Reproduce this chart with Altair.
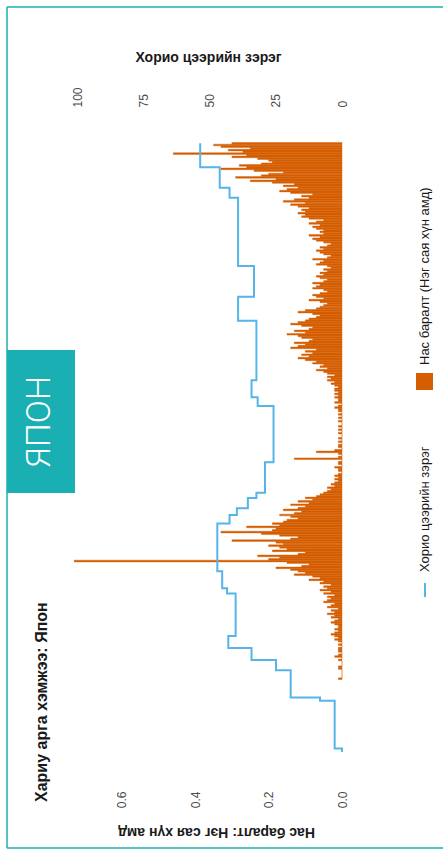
import altair as alt
import pandas as pd

# ---- Daily deaths per million people, Japan (first value: 2020-02-13) ----
first_day = "2020-02-13"
deaths_feb = [0.01, 0, 0, 0, 0, 0, 0.01, 0.01, 0, 0, 0, 0.01, 0, 0.02, 0.01, 0, 0.01]
deaths_mar = [0.01, 0.01, 0, 0.01, 0, 0.01, 0.02, 0.01, 0.02, 0.03, 0.02, 0.01, 0.02, 0.01, 0.01, 0.02,
              0.03, 0.02, 0.01, 0.03, 0.02, 0.04, 0.02, 0.03, 0.01, 0.04, 0.03, 0.02, 0.05, 0.04, 0.03]
deaths_apr = [0.04, 0.02, 0.05, 0.03, 0.06, 0.04, 0.05, 0.03, 0.06, 0.05, 0.09, 0.06, 0.08, 0.13, 0.10,
              0.12, 0.14, 0.18, 0.11, 0.09, 0.15, 0.73, 0.20, 0.17, 0.23, 0.12, 0.10, 0.19, 0.15, 0.17]
deaths_may = [0.20, 0.16, 0.18, 0.30, 0.14, 0.12, 0.17, 0.22, 0.33, 0.19, 0.18, 0.26, 0.17, 0.19, 0.16,
              0.15, 0.12, 0.14, 0.17, 0.13, 0.11, 0.16, 0.12, 0.10, 0.14, 0.09, 0.12, 0.08, 0.10, 0.07, 0.06]
deaths_jun = [0.05, 0.04, 0.03, 0.04, 0.02, 0.03, 0.02, 0.01, 0.02, 0.01, 0.02, 0.01, 0, 0.01, 0.01,
              0.02, 0, 0.01, 0.01, 0, 0.13, 0.01, 0, 0.01, 0.07, 0.02, 0, 0.01, 0.01, 0]
deaths_jul = [0.01, 0, 0.01, 0, 0, 0.01, 0, 0.01, 0, 0.01, 0, 0, 0.01, 0, 0.01, 0,
              0.01, 0, 0.01, 0.01, 0.02, 0.01, 0, 0.02, 0.01, 0.01, 0.02, 0.01, 0.02, 0.01, 0.02]
deaths_aug = [0.02, 0.01, 0.02, 0.03, 0.02, 0.04, 0.03, 0.04, 0.02, 0.04, 0.05, 0.07, 0.04, 0.06, 0.05,
              0.08, 0.07, 0.10, 0.12, 0.09, 0.11, 0.08, 0.10, 0.07, 0.14, 0.12, 0.10, 0.13, 0.09, 0.08, 0.11]
deaths_sep = [0.12, 0.15, 0.10, 0.13, 0.09, 0.08, 0.11, 0.14, 0.12, 0.10, 0.09, 0.07, 0.06, 0.08, 0.12,
              0.10, 0.07, 0.06, 0.05, 0.04, 0.06, 0.09, 0.05, 0.07, 0.08, 0.06, 0.04, 0.05, 0.08, 0.07]
deaths_oct = [0.06, 0.08, 0.05, 0.04, 0.06, 0.07, 0.05, 0.06, 0.04, 0.05, 0.03, 0.04, 0.07, 0.06, 0.05,
              0.08, 0.04, 0.03, 0.05, 0.06, 0.07, 0.05, 0.06, 0.04, 0.03, 0.05, 0.07, 0.08, 0.06, 0.09, 0.05]
deaths_nov = [0.06, 0.05, 0.07, 0.08, 0.06, 0.09, 0.07, 0.05, 0.09, 0.11, 0.10, 0.12, 0.10, 0.11, 0.09,
              0.12, 0.14, 0.10, 0.16, 0.13, 0.09, 0.11, 0.08, 0.14, 0.17, 0.15, 0.12, 0.16, 0.13, 0.19]
deaths_dec = [0.25, 0.18, 0.29, 0.22, 0.20, 0.16, 0.24, 0.33, 0.26, 0.28, 0.22, 0.19, 0.20, 0.23, 0.30,
              0.26, 0.46, 0.27, 0.31, 0.25, 0.33, 0.35, 0.30]

# ---- Stringency index (0-100), value in force from each date on ----
stringency_dates = ["2020-01-01", "2020-01-03", "2020-01-31", "2020-02-02", "2020-02-18", "2020-02-24",
                    "2020-03-02", "2020-03-09", "2020-04-03", "2020-04-06", "2020-04-16", "2020-05-14",
                    "2020-05-19", "2020-05-23", "2020-05-29", "2020-06-01", "2020-06-19", "2020-07-22",
                    "2020-07-27", "2020-08-06", "2020-09-10", "2020-09-24", "2020-10-12", "2020-11-21",
                    "2020-11-27", "2020-12-09", "2020-12-23"]
stringency_values = [0, 2.78, 8.33, 19.44, 25.0, 34.26, 43.06, 40.28, 43.52, 45.37, 47.22, 42.59,
                     39.81, 35.65, 32.41, 29.17, 25.93, 31.94, 34.26, 32.41, 39.35, 33.33, 39.35, 42.59,
                     46.3, 53.7, 53.7]

# ---- Text ----
chart_title = "Хариу арга хэмжээ: Япон"
country_tag = "ЯПОН"
date_title = "Тайлант өдөрөөр"
deaths_title = "Нас баралт: Нэг сая хүн амд"
stringency_title = "Хорио цээрийн зэрэг"
legend_deaths = "Нас баралт (Нэг сая хүн амд)"
legend_stringency = "Хорио цээрийн зэрэг"
deaths_ticks = [0, 0.2, 0.4, 0.6]
stringency_ticks = [0, 25, 50, 75, 100]

ORANGE = "#D55E00"
BLUE = "#56B4E9"
TEAL = "#1AAFB3"
FONT = "Liberation Sans"

deaths = (deaths_feb + deaths_mar + deaths_apr + deaths_may + deaths_jun + deaths_jul
          + deaths_aug + deaths_sep + deaths_oct + deaths_nov + deaths_dec)
days = pd.date_range(first_day, periods=len(deaths), freq="D")
iso = "%Y-%m-%dT%H:%M:%SZ"
bars_df = pd.DataFrame({
    "start": (days - pd.Timedelta(hours=12)).strftime(iso),
    "end": (days + pd.Timedelta(hours=12)).strftime(iso),
    "deaths": deaths,
})
line_df = pd.DataFrame({
    "date": [d + "T00:00:00Z" for d in stringency_dates],
    "stringency": stringency_values,
    "i": list(range(len(stringency_dates))),
})
dummy = pd.DataFrame({"k": [0]})

# Time runs bottom-to-top; both value scales grow to the left.
date_scale = alt.Scale(
    type="utc",
    domain=[alt.DateTime(year=2019, month=12, date=13, hours=19, minutes=40, utc=True),
            alt.DateTime(year=2021, month=1, date=8, hours=14, minutes=24, utc=True)],
    nice=False,
)
date_axis = alt.Axis(
    orient="right", format="%b %Y",
    values=[alt.DateTime(year=2020, month=1, date=1, utc=True),
            alt.DateTime(year=2020, month=4, date=1, utc=True),
            alt.DateTime(year=2020, month=7, date=1, utc=True),
            alt.DateTime(year=2020, month=10, date=1, utc=True),
            alt.DateTime(year=2021, month=1, date=1, utc=True)],
    labelAngle=270, labelAlign="center", labelBaseline="top", labelPadding=6,
    ticks=False, domain=True, domainColor="#333333", domainWidth=1,
    title=date_title, titleAngle=270, titleX=31, titleY=322,
    titleAlign="center", titleBaseline="middle",
)

bars = alt.Chart(bars_df).mark_bar(
    color=ORANGE, stroke=ORANGE, strokeWidth=0.4
).encode(
    x=alt.X("deaths:Q",
            scale=alt.Scale(domain=[-0.0354, 0.755], reverse=True, nice=False, zero=False),
            axis=alt.Axis(orient="bottom", values=deaths_ticks, format=".1f",
                          labelAngle=270, labelAlign="right", labelBaseline="middle",
                          labelPadding=8, ticks=False, domain=False,
                          title=deaths_title, titleAngle=180, titleX=151, titleY=48,
                          titleAlign="center", titleBaseline="middle")),
    x2=alt.datum(0),
    y=alt.Y("start:T", scale=date_scale, axis=date_axis),
    y2="end:T",
)

line = alt.Chart(line_df).mark_line(
    color=BLUE, strokeWidth=2, interpolate="step-before"
).encode(
    x=alt.X("stringency:Q",
            scale=alt.Scale(domain=[-4.92, 104.9], reverse=True, nice=False, zero=False),
            axis=alt.Axis(orient="top", values=stringency_ticks, format="d",
                          labelAngle=270, labelAlign="left", labelBaseline="middle",
                          labelPadding=8, ticks=False, domain=False,
                          title=stringency_title, titleAngle=0, titleX=143, titleY=-58,
                          titleAlign="center", titleBaseline="middle")),
    y=alt.Y("date:T", scale=date_scale, axis=None),
    order=alt.Order("i:Q"),
)

# Page frame and country tag
frame_left = alt.Chart(dummy).mark_rule(color=TEAL, strokeWidth=1.5).encode(
    x=alt.value(-58), y=alt.value(-108), y2=alt.value(733))
frame_top = alt.Chart(dummy).mark_rule(color=TEAL, strokeWidth=1.5).encode(
    x=alt.value(-58), x2=alt.value(378), y=alt.value(-108))
frame_bottom = alt.Chart(dummy).mark_rule(color=TEAL, strokeWidth=1.5).encode(
    x=alt.value(-58), x2=alt.value(378), y=alt.value(733))
tag_box = alt.Chart(dummy).mark_rect(color=TEAL).encode(
    x=alt.value(-58), x2=alt.value(10), y=alt.value(235), y2=alt.value(378))
tag_text = alt.Chart(dummy).mark_text(
    text=country_tag, angle=270, align="center", baseline="middle",
    font="Roboto", fontWeight=300, fontSize=34, color="white"
).encode(x=alt.value(-25), y=alt.value(307))

title = alt.Chart(dummy).mark_text(
    text=chart_title, angle=270, align="left", baseline="middle",
    font=FONT, fontWeight="bold", fontSize=16, color="#1a1a1a"
).encode(x=alt.value(-23), y=alt.value(687))

# Legend on the right edge
leg_line = alt.Chart(dummy).mark_rule(color=BLUE, strokeWidth=2).encode(
    x=alt.value(360), y=alt.value(468), y2=alt.value(482))
leg_line_text = alt.Chart(dummy).mark_text(
    text=legend_stringency, angle=270, align="left", baseline="middle",
    font=FONT, fontSize=13, color="#1a1a1a"
).encode(x=alt.value(360), y=alt.value(457))
leg_square = alt.Chart(dummy).mark_rect(color=ORANGE).encode(
    x=alt.value(351), x2=alt.value(368), y=alt.value(258), y2=alt.value(275))
leg_square_text = alt.Chart(dummy).mark_text(
    text=legend_deaths, angle=270, align="left", baseline="middle",
    font=FONT, fontSize=13, color="#1a1a1a"
).encode(x=alt.value(360), y=alt.value(250))

chart = alt.layer(
    frame_left, frame_top, frame_bottom, tag_box, tag_text, title,
    bars, line,
    leg_line, leg_line_text, leg_square, leg_square_text,
).resolve_scale(
    x="independent"
).properties(
    width=290, height=668,
    autosize=alt.AutoSizeParams(type="none"),
    padding={"left": 65, "top": 115, "right": 88, "bottom": 68},
    background="white",
).configure_view(
    stroke=None
).configure_axis(
    grid=False,
    labelFont=FONT, labelFontSize=12, labelColor="#4d4d4d",
    titleFont=FONT, titleFontSize=14, titleFontWeight="bold", titleColor="#1a1a1a",
)

chart.save("out.html", embed_options={"renderer": "svg", "actions": False})
